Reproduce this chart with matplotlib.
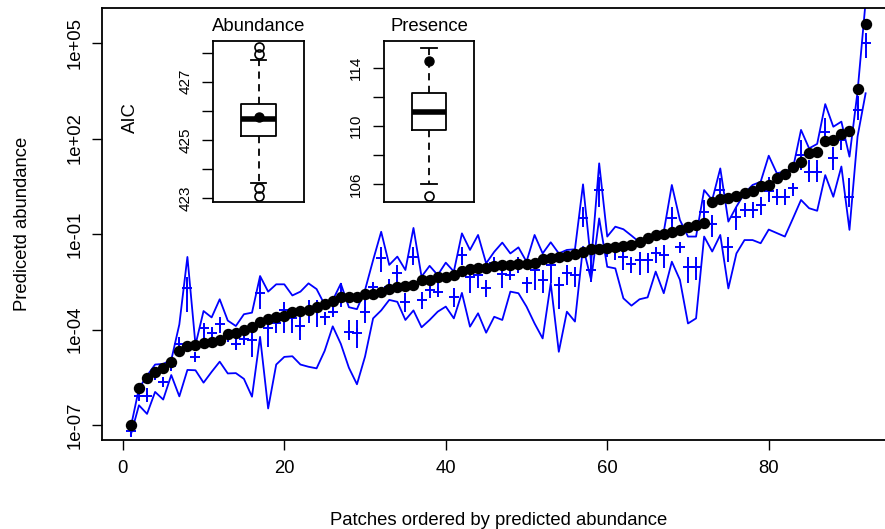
import numpy as np
import matplotlib
matplotlib.use("Agg")
import matplotlib.pyplot as plt

plt.rcParams['font.family'] = ['Liberation Sans', 'DejaVu Sans']
FS = 13.3

# ---- data (log10 of abundance) ----
predicted_log10 = [
    -7.00, -5.84, -5.53, -5.34, -5.21, -5.02, -4.68, -4.52, -4.49, -4.43,
    -4.39, -4.33, -4.14, -4.11, -4.02, -3.92, -3.77, -3.67, -3.61, -3.58,
    -3.45, -3.42, -3.39, -3.29, -3.20, -3.11, -2.98, -2.98, -2.97, -2.89,
    -2.87, -2.81, -2.73, -2.66, -2.63, -2.60, -2.46, -2.44, -2.36, -2.34,
    -2.29, -2.16, -2.11, -2.08, -2.06, -2.01, -1.98, -1.97, -1.94, -1.94,
    -1.90, -1.79, -1.76, -1.71, -1.68, -1.63, -1.58, -1.48, -1.46, -1.43,
    -1.40, -1.38, -1.36, -1.24, -1.14, -1.03, -1.00, -0.93, -0.88, -0.77,
    -0.72, -0.66, 0.01, 0.09, 0.14, 0.19, 0.28, 0.35, 0.50, 0.53,
    0.77, 0.87, 1.11, 1.25, 1.55, 1.58, 1.93, 1.95, 2.14, 2.24,
    3.55, 5.59]

median_log10 = [
    -7.18, -6.08, -6.08, -5.43, -5.64, -5.15, -4.46, -2.71, -4.85, -3.96,
    -4.10, -3.83, -4.17, -4.44, -4.30, -4.33, -2.86, -3.96, -3.81, -3.39,
    -3.65, -3.88, -3.39, -3.28, -3.60, -3.44, -3.05, -4.07, -4.12, -3.44,
    -2.68, -1.76, -2.65, -2.23, -3.13, -1.71, -3.07, -2.76, -2.81, -2.39,
    -2.97, -1.66, -2.34, -2.29, -2.71, -1.92, -2.26, -2.29, -1.90, -2.55,
    -2.13, -2.44, -1.97, -2.60, -2.24, -2.29, -0.51, -2.13, 0.38, -1.50,
    -1.52, -1.71, -1.95, -1.82, -1.82, -1.61, -1.66, -0.51, -1.40, -2.03,
    -2.03, -0.30, -0.67, 0.38, -1.40, -0.46, -0.25, -0.25, -0.10, 0.35,
    0.17, 0.17, 0.43, 1.48, 0.96, 0.96, 2.22, 1.38, 1.95, 0.17,
    2.89, 4.99]

iqr_low_log10 = [
    -7.37, -6.22, -6.27, -5.59, -5.80, -5.27, -4.67, -3.44, -4.96, -4.33,
    -4.38, -4.12, -4.38, -4.65, -4.50, -4.85, -3.34, -4.54, -4.12, -4.12,
    -4.12, -4.33, -3.81, -3.91, -3.86, -3.54, -3.28, -4.33, -4.59, -3.81,
    -2.97, -2.18, -2.90, -2.60, -3.44, -1.97, -3.34, -3.02, -2.97, -2.55,
    -3.28, -1.97, -2.86, -2.71, -2.97, -2.13, -2.71, -2.44, -2.24, -2.86,
    -2.76, -2.86, -2.55, -3.34, -2.60, -2.66, -0.77, -2.50, -0.14, -1.71,
    -1.82, -2.13, -2.24, -2.29, -2.24, -1.92, -2.08, -0.98, -1.61, -2.55,
    -2.45, -0.67, -1.08, -0.04, -1.87, -0.87, -0.46, -0.51, -0.40, 0.00,
    -0.10, -0.10, 0.20, 1.01, 0.64, 0.64, 1.95, 1.01, 1.64, -0.14,
    2.58, 4.52]

iqr_high_log10 = [
    -7.05, -5.90, -5.85, -5.27, -5.48, -4.96, -4.25, -2.34, -4.75, -3.86,
    -3.91, -3.60, -4.02, -4.17, -4.10, -4.02, -2.39, -3.60, -3.44, -3.13,
    -3.28, -3.60, -3.07, -3.07, -3.49, -3.34, -2.55, -3.70, -3.70, -3.07,
    -2.55, -1.40, -2.40, -1.97, -2.86, -1.40, -2.81, -2.44, -2.55, -2.23,
    -2.71, -1.40, -1.97, -1.97, -2.44, -1.71, -1.97, -2.13, -1.71, -2.34,
    -1.82, -2.13, -1.76, -2.34, -1.97, -2.03, -0.14, -1.61, 0.80, -1.29,
    -1.40, -1.40, -1.71, -1.56, -1.61, -1.40, -1.35, -0.14, -1.24, -1.71,
    -1.71, 0.07, -0.40, 0.75, -1.08, -0.14, -0.04, 0.02, 0.17, 0.80,
    0.40, 0.40, 0.60, 1.95, 1.32, 1.32, 2.63, 1.74, 2.16, 0.75,
    3.32, 5.30]

upper_log10 = [
    -7.05, -5.85, -5.45, -5.10, -5.08, -4.96, -3.84, -1.72, -4.48, -3.42,
    -3.62, -3.05, -3.72, -3.89, -3.52, -3.47, -2.32, -2.81, -2.58, -2.58,
    -2.93, -2.81, -2.55, -2.73, -3.22, -3.08, -2.56, -3.30, -3.36, -2.76,
    -1.82, -0.93, -1.97, -1.71, -2.13, -0.81, -2.34, -2.00, -2.29, -1.90,
    -2.18, -0.98, -1.50, -1.03, -1.92, -1.56, -1.27, -1.61, -1.42, -1.87,
    -1.03, -1.61, -1.26, -1.61, -1.50, -1.48, 0.56, -1.90, 1.22, -1.08,
    -0.77, -0.85, -1.05, -1.26, -1.19, -0.93, -0.93, 0.54, -0.56, -1.08,
    -1.08, 0.38, 0.07, 1.06, -0.61, -0.14, 0.28, 0.54, 0.64, 1.46,
    0.91, 0.96, 1.06, 2.27, 1.69, 1.83, 3.08, 2.37, 2.53, 1.43,
    3.47, 6.30]

lower_log10 = [
    -7.30, -6.38, -6.65, -5.96, -6.20, -5.43, -6.10, -5.27, -5.28, -5.67,
    -5.33, -5.01, -5.38, -5.37, -5.55, -6.11, -4.23, -6.48, -5.10, -4.86,
    -4.84, -5.10, -5.17, -5.22, -4.67, -3.90, -4.45, -5.20, -5.72, -4.85,
    -3.65, -3.40, -3.07, -3.13, -3.70, -3.40, -3.93, -3.70, -3.44, -3.28,
    -3.65, -2.85, -3.91, -3.49, -4.10, -3.60, -3.70, -2.81, -2.86, -3.28,
    -3.81, -4.28, -2.55, -4.70, -3.44, -3.75, -1.40, -2.44, -0.51, -2.03,
    -2.08, -3.02, -3.25, -3.05, -2.99, -2.18, -2.86, -1.87, -2.44, -3.81,
    -3.65, -1.08, -1.55, -1.03, -2.71, -1.61, -1.19, -1.19, -1.29, -0.86,
    -0.97, -1.08, -0.51, 0.07, -0.19, -0.27, 0.85, 0.17, 1.12, -0.87,
    2.06, 3.42]

patch = np.arange(1, len(predicted_log10) + 1)

x_ticks = [0, 20, 40, 60, 80]
y_tick_exp = [-7, -4, -1, 2, 5]
y_tick_labels = ["1e-07", "1e-04", "1e-01", "1e+02", "1e+05"]

# inset boxplot summaries (AIC)
abund_box = dict(q1=425.13, med=425.73, q3=426.24, whislo=423.53, whishi=427.76,
                 fliers=[423.08, 423.34, 427.97, 428.20])
abund_point = 425.78
abund_ticks = [423, 424, 425, 426, 427, 428]
abund_labels = ["423", "", "425", "", "427", ""]

pres_box = dict(q1=109.7, med=110.95, q3=112.3, whislo=106.0, whishi=115.4,
                fliers=[105.2])
pres_point = 114.5
pres_ticks = [106, 108, 110, 112, 114]
pres_labels = ["106", "", "110", "", "114"]

# ---- figure ----
W, H = 885, 529
fig = plt.figure(figsize=(W / 100, H / 100), dpi=100)

def rect(x0, y0, x1, y1):
    return [x0 / W, 1 - y1 / H, (x1 - x0) / W, (y1 - y0) / H]

ax = fig.add_axes(rect(101.5, 8.3, 895, 440.3))
blue = "#0000FF"

pred = 10 ** np.array(predicted_log10)
med = 10 ** np.array(median_log10)
lo = 10 ** np.array(iqr_low_log10)
hi = 10 ** np.array(iqr_high_log10)
up = 10 ** np.array(upper_log10)
dn = 10 ** np.array(lower_log10)

ax.plot(patch, up, color=blue, lw=1.3, zorder=2)
ax.plot(patch, dn, color=blue, lw=1.3, zorder=2)
ax.vlines(patch, lo, hi, color=blue, lw=1.4, zorder=3)
ax.plot(patch, med, linestyle="none", marker="+", color=blue,
        markersize=6.5, markeredgewidth=1.4, zorder=3)
ax.plot(patch, pred, linestyle="none", marker="o", color="black",
        markersize=7.2, zorder=4)

ax.set_yscale("log")
ax.set_xlim(-2.64, 95.64)
ax.set_ylim(10 ** -7.48, 10 ** 6.09)
ax.set_yticks([10.0 ** e for e in y_tick_exp])
ax.set_yticklabels(y_tick_labels, rotation=90, va="center", fontsize=FS)
ax.yaxis.set_minor_locator(matplotlib.ticker.NullLocator())
ax.set_xticks(x_ticks)
ax.set_xticklabels([str(t) for t in x_ticks], fontsize=FS)
ax.tick_params(axis="x", direction="out", length=7.5, width=1.0, pad=7)
ax.tick_params(axis="y", direction="out", length=7.5, width=1.0, pad=5.5)
for s in ax.spines.values():
    s.set_linewidth(1.3)
ax.set_xlabel("Patches ordered by predicted abundance", fontsize=FS)
ax.xaxis.set_label_coords(0.5, -0.165)
ax.set_ylabel("Predicetd abundance", fontsize=FS)
ax.yaxis.set_label_coords(-0.089, 0.5)


def inset(r, stats, point, ticks, labels, lim, title):
    a = fig.add_axes(r)
    a.set_facecolor("white")
    st = dict(stats)
    st["label"] = ""
    a.bxp([st], positions=[1], widths=0.38, capwidths=0.17, showfliers=True,
          patch_artist=False,
          boxprops=dict(color="black", lw=1.3),
          whiskerprops=dict(color="black", lw=1.3, linestyle=(0, (4, 3))),
          capprops=dict(color="black", lw=1.3),
          medianprops=dict(color="black", lw=4),
          flierprops=dict(marker="o", markerfacecolor="none",
                          markeredgecolor="black", markersize=6.5,
                          markeredgewidth=1.2))
    a.plot([1], [point], marker="o", color="black", markersize=6.5, zorder=5)
    a.set_xlim(0.5, 1.5)
    a.set_ylim(*lim)
    a.set_xticks([])
    a.set_yticks(ticks)
    a.set_yticklabels(labels, rotation=90, va="center", fontsize=11)
    a.tick_params(axis="y", direction="out", length=8, width=1.0, pad=7)
    for s in a.spines.values():
        s.set_linewidth(1.3)
    a.set_title(title, fontsize=FS, pad=7)
    return a


inset(rect(213, 41, 304, 202), abund_box, abund_point, abund_ticks,
      abund_labels, (422.87, 428.4), "Abundance")
inset(rect(384, 41, 474, 202), pres_box, pres_point, pres_ticks,
      pres_labels, (104.76, 115.86), "Presence")
fig.text(130 / W, 1 - 118 / H, "AIC", rotation=90, ha="center", va="center",
         fontsize=FS)

fig.savefig("out.png", dpi=100)
